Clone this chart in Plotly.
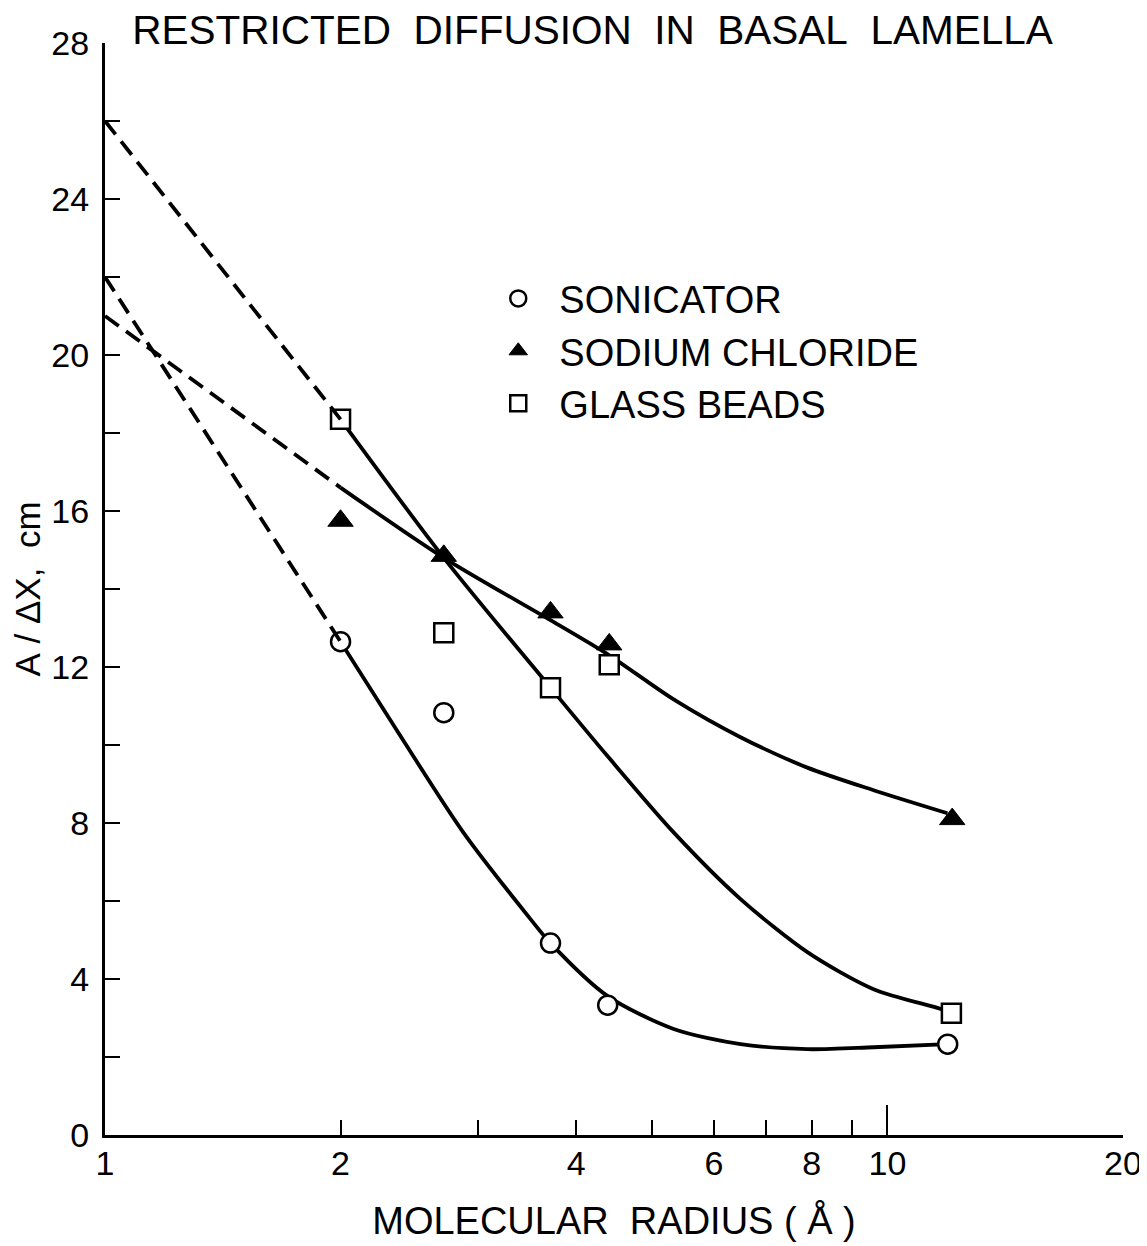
import math
import plotly.graph_objects as go

# ---------------- data ----------------
# measured points
radius_sonicator = [2.0, 2.71, 3.71, 4.39, 11.94]
ratio_sonicator = [12.65, 10.83, 4.92, 3.33, 2.33]

radius_nacl = [2.0, 2.71, 3.71, 4.41, 12.1]
ratio_nacl = [15.75, 14.85, 13.4, 12.58, 8.1]

radius_beads = [2.0, 2.71, 3.71, 4.41, 12.07]
ratio_beads = [18.35, 12.88, 11.47, 12.06, 3.12]

# hand-drawn fitted curves (solid)
curve_son_x = [2.0, 2.37, 2.87, 3.5, 3.71, 4.39, 5.33, 6.49, 7.9, 9.6, 11.94]
curve_son_y = [12.65, 10.32, 7.76, 5.53, 4.92, 3.56, 2.72, 2.33, 2.2, 2.25, 2.33]

curve_nacl_x = [2.0, 2.71, 3.71, 4.41, 5.33, 6.49, 7.9, 9.6, 11.93]
curve_nacl_y = [16.6, 14.8, 13.2, 12.3, 11.17, 10.2, 9.42, 8.84, 8.25]

curve_beads_x = [2.0, 2.71, 3.71, 4.39, 5.33, 6.49, 7.9, 9.6, 11.7, 12.07]
curve_beads_y = [18.35, 14.8, 11.47, 9.71, 7.76, 6.05, 4.69, 3.74, 3.23, 3.12]

# extrapolations (dashed)
dash_son_x = [1.0, 2.0]
dash_son_y = [22.0, 12.65]
dash_nacl_x = [1.0, 2.0]
dash_nacl_y = [21.0, 16.6]
dash_beads_x = [1.0, 2.0]
dash_beads_y = [26.0, 18.35]

# axis ticks
x_tick_vals = [1, 2, 4, 6, 8, 10, 20]
x_tick_text = ["1", "2", "4", "6", "8", "10", "20"]
x_minor_vals = [3, 5, 7, 9]
x_long_vals = [10]
y_tick_vals = [0, 4, 8, 12, 16, 20, 24, 28]
y_tick_text = ["0", "4", "8", "12", "16", "20", "24", "28"]
y_minor_vals = [2, 6, 10, 14, 18, 22, 26]

# ---------------- figure ----------------
FONT = "Liberation Sans"
BLACK = "black"
LW = 3.8
NB = "\u00a0"
# the page body has an 8px default margin, so the figure is 8px smaller
W, H = 1139, 1238

fig = go.Figure()

for xs, ys in [(dash_son_x, dash_son_y), (dash_nacl_x, dash_nacl_y), (dash_beads_x, dash_beads_y)]:
    fig.add_trace(go.Scatter(x=xs, y=ys, mode="lines", xaxis="x2",
                             line=dict(color=BLACK, width=LW, dash="17px,9px"),
                             showlegend=False, hoverinfo="skip"))

for xs, ys in [(curve_son_x, curve_son_y), (curve_nacl_x, curve_nacl_y), (curve_beads_x, curve_beads_y)]:
    fig.add_trace(go.Scatter(x=xs, y=ys, mode="lines",
                             line=dict(color=BLACK, width=LW, shape="spline", smoothing=0.8),
                             showlegend=False, hoverinfo="skip"))

fig.add_trace(go.Scatter(x=radius_sonicator, y=ratio_sonicator, mode="markers",
                         name=NB * 2 + "SONICATOR",
                         marker=dict(symbol="circle", size=19, color="white",
                                     line=dict(color=BLACK, width=2.5))))
fig.add_trace(go.Scatter(x=radius_nacl, y=ratio_nacl, mode="markers",
                         name=NB * 2 + "SODIUM" + NB + "CHLORIDE",
                         marker=dict(symbol="triangle-up", size=22, color=BLACK,
                                     line=dict(color=BLACK, width=1))))
fig.add_trace(go.Scatter(x=radius_beads, y=ratio_beads, mode="markers",
                         name=NB * 2 + "GLASS" + NB + "BEADS",
                         marker=dict(symbol="square", size=19, color="white",
                                     line=dict(color=BLACK, width=2.5))))

xr = [0, math.log10(20)]
fig.update_layout(
    template="none",
    width=W, height=H,
    margin=dict(l=97, r=24, t=35, b=111, autoexpand=False),
    paper_bgcolor="white", plot_bgcolor="white",
    font=dict(family=FONT, color=BLACK, size=34),
    title=dict(text=(NB * 2).join(["RESTRICTED", "DIFFUSION", "IN", "BASAL", "LAMELLA"]),
               x=0.5132, xanchor="center", y=1 - 22 / H, yanchor="middle",
               font=dict(size=40.5, family=FONT, color=BLACK)),
    showlegend=True,
    legend=dict(x=0.3863, y=0.7947, xanchor="left", yanchor="top",
                bgcolor="rgba(0,0,0,0)", font=dict(size=38, family=FONT, color=BLACK),
                itemsizing="trace", tracegroupgap=0),
    xaxis=dict(type="log", range=xr, showline=True, linecolor=BLACK, linewidth=3,
               automargin=False,
               ticks="inside", ticklen=15, tickwidth=2, tickcolor=BLACK,
               tickmode="array", tickvals=x_tick_vals, ticktext=x_tick_text,
               tickfont=dict(size=34), ticklabelstandoff=-4,
               showgrid=False, zeroline=False,
               minor=dict(tickmode="array", tickvals=x_minor_vals, ticks="inside", ticklen=15,
                          tickwidth=2, tickcolor=BLACK, showgrid=False),
               title=dict(text="MOLECULAR" + NB * 2 + "RADIUS" + NB + "(" + NB + "Å" + NB + ")",
                          font=dict(size=38), standoff=27)),
    xaxis2=dict(type="log", range=xr, overlaying="x", anchor="y", side="bottom",
                automargin=False,
                showline=False, ticks="inside", ticklen=30, tickwidth=2, tickcolor=BLACK,
                tickmode="array", tickvals=x_long_vals, showticklabels=False,
                showgrid=False, zeroline=False),
    yaxis=dict(range=[0, 28], showline=True, linecolor=BLACK, linewidth=3,
               automargin=False,
               ticks="inside", ticklen=15, tickwidth=2, tickcolor=BLACK,
               tickmode="array", tickvals=y_tick_vals, ticktext=y_tick_text,
               tickfont=dict(size=34), ticklabelstandoff=6,
               showgrid=False, zeroline=False,
               minor=dict(tickmode="array", tickvals=y_minor_vals, ticks="inside", ticklen=15,
                          tickwidth=2, tickcolor=BLACK, showgrid=False),
               title=dict(text="A" + NB + "/" + NB + "ΔX," + NB * 2 + "cm", font=dict(size=35), standoff=8)),
)

fig.write_html("out.html")
